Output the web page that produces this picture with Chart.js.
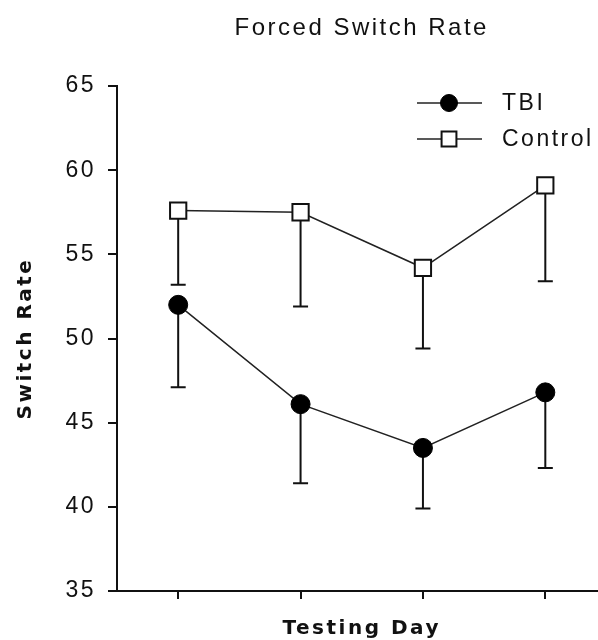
<!DOCTYPE html>
<html>
<head>
<meta charset="utf-8">
<title>Forced Switch Rate</title>
<script src="https://cdn.jsdelivr.net/npm/chart.js@4/dist/chart.umd.min.js"></script>
<style>
  html, body { margin: 0; padding: 0; background: #fff; overflow: hidden; }
  #wrap { width: 620px; height: 640px; }
</style>
</head>
<body>
<div id="wrap"><canvas id="chart" width="620" height="640"></canvas></div>
<script>
// --- Data ---
const days = ['1', '2', '3', '4'];
const tbiMeans = [52.0, 46.1, 43.5, 46.8];
const tbiErr = [4.9, 4.7, 3.6, 4.5];
const controlMeans = [57.6, 57.5, 54.2, 59.1];
const controlErr = [4.4, 5.6, 4.8, 5.7];
const yTicks = [35, 40, 45, 50, 55, 60, 65];

const INK = '#111';
const SANS = "'Liberation Sans', Arial, sans-serif";
const BOLD = "'DejaVu Sans', Verdana, sans-serif";

// letter spacing like the old bitmap rendering
const spacing = {
  id: 'spacing',
  beforeDraw(chart) { chart.ctx.letterSpacing = '2.5px'; },
};

// lower-only error bars, drawn under the markers
const errorBars = {
  id: 'errorBars',
  beforeDatasetsDraw(chart) {
    const ctx = chart.ctx;
    const y = chart.scales.y;
    chart.data.datasets.forEach((ds, i) => {
      const meta = chart.getDatasetMeta(i);
      ctx.save();
      ctx.strokeStyle = INK;
      ctx.lineWidth = 2;
      meta.data.forEach((pt, j) => {
        const low = y.getPixelForValue(ds.data[j] - ds.errorBars[j]);
        ctx.beginPath();
        ctx.moveTo(pt.x, pt.y);
        ctx.lineTo(pt.x, low);
        ctx.moveTo(pt.x - 7.5, low);
        ctx.lineTo(pt.x + 7.5, low);
        ctx.stroke();
      });
      ctx.restore();
    });
  },
};

// legend sitting inside the plot, top right
const legendInside = {
  id: 'legendInside',
  afterDraw(chart) {
    const ctx = chart.ctx;
    chart.data.datasets.forEach((ds, i) => {
      const y = 103 + i * 36;
      ctx.save();
      ctx.strokeStyle = ds.borderColor;
      ctx.lineWidth = 1.5;
      ctx.beginPath();
      ctx.moveTo(417, y);
      ctx.lineTo(482, y);
      ctx.stroke();
      ctx.fillStyle = ds.pointBackgroundColor;
      ctx.strokeStyle = ds.pointBorderColor;
      ctx.lineWidth = ds.pointBorderWidth;
      Chart.helpers.drawPoint(ctx, {
        pointStyle: ds.pointStyle, rotation: 0,
        radius: ds.pointRadius - 1, borderWidth: ds.pointBorderWidth,
      }, 449, y);
      ctx.fillStyle = INK;
      ctx.font = '23px ' + SANS;
      ctx.letterSpacing = '2.5px';
      ctx.textAlign = 'left';
      ctx.textBaseline = 'middle';
      ctx.fillText(ds.label, 502, y + 1);
      ctx.restore();
    });
  },
};

new Chart(document.getElementById('chart'), {
  type: 'line',
  data: {
    labels: days,
    datasets: [
      {
        label: 'TBI', data: tbiMeans, errorBars: tbiErr,
        borderColor: '#222', borderWidth: 1.5, tension: 0,
        pointStyle: 'circle', pointRadius: 9.5,
        pointBackgroundColor: '#000', pointBorderColor: '#000', pointBorderWidth: 1,
      },
      {
        label: 'Control', data: controlMeans, errorBars: controlErr,
        borderColor: '#222', borderWidth: 1.5, tension: 0,
        pointStyle: 'rect', pointRadius: 11.5,
        pointBackgroundColor: '#fff', pointBorderColor: INK, pointBorderWidth: 2,
      },
    ],
  },
  options: {
    responsive: false, animation: false, events: [],
    layout: { padding: 0 },
    plugins: {
      legend: { display: false },
      tooltip: { enabled: false },
      title: {
        display: true, text: 'Forced Switch Rate', color: INK, fullSize: false,
        font: { family: SANS, size: 24, weight: 'normal', lineHeight: 1 },
        padding: { top: 16, bottom: 46 },
      },
    },
    scales: {
      x: {
        offset: true,
        border: { display: true, color: INK, width: 2 },
        grid: { drawOnChartArea: false, drawTicks: true, tickLength: 8, color: INK, lineWidth: 2 },
        ticks: { display: false },
        title: {
          display: true, text: 'Testing Day', color: INK,
          font: { family: BOLD, size: 20, weight: 'bold', lineHeight: 1 },
          padding: { top: 20, bottom: 1 },
        },
        afterFit(scale) { scale.height = 49; },
      },
      y: {
        min: 35, max: 65,
        border: { display: true, color: INK, width: 2 },
        grid: { drawOnChartArea: false, drawTicks: true, tickLength: 9, color: INK, lineWidth: 2 },
        afterBuildTicks(scale) { scale.ticks = yTicks.map(v => ({ value: v })); },
        ticks: { color: INK, padding: 12, font: { family: SANS, size: 23 } },
        title: {
          display: true, text: 'Switch Rate', color: INK,
          font: { family: BOLD, size: 20, weight: 'bold', lineHeight: 1 },
          padding: { top: 16, bottom: 0 },
        },
        afterFit(scale) { scale.width = 117; },
      },
    },
  },
  plugins: [spacing, errorBars, legendInside],
});
</script>
</body>
</html>
